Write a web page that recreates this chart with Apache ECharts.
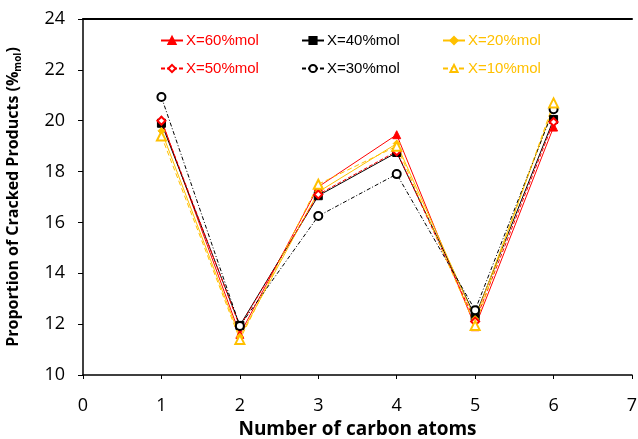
<!DOCTYPE html>
<html>
<head>
<meta charset="utf-8">
<script src="https://cdn.jsdelivr.net/npm/echarts@6/dist/echarts.min.js"></script>
<style>
html, body { margin: 0; padding: 0; background: #fff; }
#chart { width: 638px; height: 439px; }
</style>
</head>
<body>
<div id="chart"></div>
<script>
// 碳数
var carbon = [1, 2, 3, 4, 5, 6];

var x60 = [20.03, 11.6, 17.4, 19.45, 11.9, 19.75];
var x50 = [20.0, 11.9, 17.1, 18.8, 12.1, 19.95];
var x40 = [19.9, 11.95, 17.05, 18.75, 12.3, 20.05];
var x30 = [20.93, 11.93, 16.25, 17.9, 12.55, 20.45];
var x20 = [19.6, 11.5, 17.2, 19.1, 12.2, 20.55];
var x10 = [19.4, 11.4, 17.5, 19.0, 11.95, 20.7];

var RED = '#ff0000', BLACK = '#000000', ORANGE = '#ffc000';
var FONT = 'Open Sans';

function pairs(ys) {
    return carbon.map(function (c, i) { return [c, ys[i]]; });
}

function mkSeries(name, ys, color, symbol, hollow, lineType, size) {
    return {
        name: name,
        type: 'line',
        data: pairs(ys),
        symbol: symbol,
        symbolSize: size,
        showSymbol: true,
        lineStyle: { color: color, width: 1, type: lineType },
        itemStyle: {
            color: hollow ? '#ffffff' : color,
            borderColor: color,
            borderWidth: hollow ? 2 : 1
        },
        z: 2
    };
}

// 每列一个图例
function mkLegend(left, names, color) {
    return {
        orient: 'vertical', top: 28, left: left, itemGap: 13,
        itemWidth: 22, itemHeight: 9,
        textStyle: { fontFamily: 'Liberation Sans', fontSize: 15, color: color, padding: [0, 0, 0, -2] },
        data: names
    };
}

var chart = echarts.init(document.getElementById('chart'), null, {renderer: 'canvas'});

var option = {
    animation: false,
    grid: { left: 83, right: 6, top: 19, bottom: 64, outerBoundsMode: 'none', containLabel: false },
    legend: [
        mkLegend(155, ['X=60%mol', 'X=50%mol'], RED),
        mkLegend(296, ['X=40%mol', 'X=30%mol'], BLACK),
        mkLegend(437, ['X=20%mol', 'X=10%mol'], ORANGE)
    ],
    xAxis: [
        {
            type: 'value', min: 0, max: 7, interval: 1,
            name: 'Number of carbon atoms',
            nameLocation: 'middle', nameGap: 41,
            nameTextStyle: { fontFamily: FONT, fontSize: 19, fontWeight: 'bold', color: '#000' },
            axisLine: { lineStyle: { color: '#000', width: 1.5 } },
            axisTick: { show: true, inside: false, length: 4, lineStyle: { color: '#000' } },
            axisLabel: { fontFamily: FONT, fontSize: 18, color: '#000', margin: 22 },
            splitLine: { show: false }
        },
        {
            type: 'value', min: 0, max: 7, position: 'top',
            axisLine: { show: true, onZero: false, lineStyle: { color: '#000', width: 2 } },
            axisTick: { show: false },
            axisLabel: { show: false },
            splitLine: { show: false }
        }
    ],
    yAxis: {
        type: 'value', min: 10, max: 24, interval: 2,
        name: '{a|Proportion of Cracked Products (%}{s|mol}{a|)}',
        nameLocation: 'middle', nameGap: 60,
        nameTextStyle: {
            rich: {
                a: { fontFamily: FONT, fontSize: 16, fontWeight: 'bold', color: '#000' },
                s: { fontFamily: FONT, fontSize: 10, fontWeight: 'bold', color: '#000', verticalAlign: 'bottom', padding: [9, 0, 0, 0] }
            }
        },
        axisLine: { show: true, lineStyle: { color: '#000', width: 1.5 } },
        axisTick: { show: true, inside: false, length: 5, lineStyle: { color: '#000' } },
        axisLabel: { fontFamily: FONT, fontSize: 18, color: '#000', margin: 18 },
        splitLine: { show: false }
    },
    series: [
        mkSeries('X=60%mol', x60, RED, 'triangle', false, 'solid', 8),
        mkSeries('X=40%mol', x40, BLACK, 'rect', false, 'solid', 8),
        mkSeries('X=20%mol', x20, ORANGE, 'diamond', false, 'solid', 7),
        mkSeries('X=50%mol', x50, RED, 'diamond', true, [4, 2], 8),
        mkSeries('X=30%mol', x30, BLACK, 'circle', true, [4, 2, 1, 2], 8),
        mkSeries('X=10%mol', x10, ORANGE, 'triangle', true, [5, 3], 9)
    ]
};

chart.setOption(option);
</script>
</body>
</html>
